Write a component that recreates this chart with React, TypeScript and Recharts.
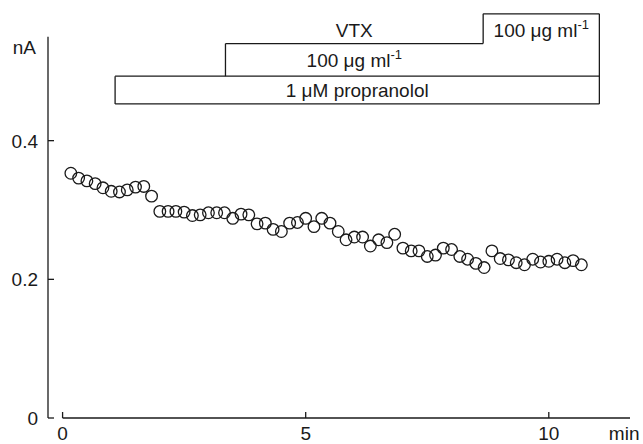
import {
  ScatterChart,
  Scatter,
  XAxis,
  YAxis,
  ReferenceLine,
  ReferenceArea,
  ReferenceDot,
} from 'recharts'

// sample times (min) and currents (nA)
const times = [
  0.17, 0.33, 0.5, 0.67, 0.83, 1.0, 1.17, 1.33, 1.5, 1.67, 1.83, 2.0, 2.17,
  2.33, 2.5, 2.67, 2.83, 3.0, 3.17, 3.33, 3.5, 3.67, 3.83, 4.0, 4.17, 4.33,
  4.5, 4.67, 4.83, 5.0, 5.17, 5.33, 5.5, 5.67, 5.83, 6.0, 6.17, 6.33, 6.5,
  6.67, 6.83, 7.0, 7.17, 7.33, 7.5, 7.67, 7.83, 8.0, 8.17, 8.33, 8.5, 8.67,
  8.83, 9.0, 9.17, 9.33, 9.5, 9.67, 9.83, 10.0, 10.17, 10.33, 10.5, 10.67,
]
const currents = [
  0.353, 0.346, 0.342, 0.338, 0.332, 0.327, 0.326, 0.329, 0.333, 0.334, 0.32,
  0.298, 0.298, 0.298, 0.297, 0.292, 0.293, 0.296, 0.296, 0.296, 0.288, 0.294,
  0.293, 0.28, 0.281, 0.272, 0.269, 0.281, 0.282, 0.288, 0.276, 0.288, 0.281,
  0.269, 0.257, 0.261, 0.261, 0.248, 0.257, 0.253, 0.265, 0.245, 0.241, 0.241,
  0.233, 0.235, 0.245, 0.243, 0.233, 0.229, 0.223, 0.217, 0.241, 0.23, 0.228,
  0.224, 0.221, 0.229, 0.225, 0.226, 0.229, 0.224, 0.227, 0.221,
]

const xTicks = [0, 5, 10]
const yTicks = [0, 0.2, 0.4]

// drug application bars: start times (min) and levels (nA) of the outline
const propranololStart = 1.08
const vtxStart = 3.35
const vtxHighStart = 8.65
const drugEnd = 11.04
const barLevels = [0.453, 0.493, 0.54, 0.583]

const data = times.map((t, i) => ({ t, v: currents[i] }))

const FONT = "'Liberation Sans', Arial, Helvetica, sans-serif"
const INK = '#1a1a1a'
const X_MIN = -0.3
const X_MAX = 11.67
const Y_TOP = 0.55

const [b0, b1, b2, b3] = barLevels
const outline = [
  [propranololStart, b0, drugEnd, b0],
  [propranololStart, b0, propranololStart, b1],
  [propranololStart, b1, drugEnd, b1],
  [vtxStart, b1, vtxStart, b2],
  [vtxStart, b2, vtxHighStart, b2],
  [vtxHighStart, b2, vtxHighStart, b3],
  [vtxHighStart, b3, drugEnd, b3],
  [drugEnd, b3, drugEnd, b0],
]

function XTick({ x, y, payload }: any) {
  return (
    <g>
      <line x1={x} y1={y} x2={x} y2={y - 6} stroke={INK} strokeWidth={1.3} />
      <text x={x} y={y + 22} textAnchor='middle' fontSize={19} fontFamily={FONT} fill={INK}>
        {payload.value}
      </text>
    </g>
  )
}

function YTick({ x, y, payload }: any) {
  return (
    <g>
      <line x1={x} y1={y} x2={x + 6} y2={y} stroke={INK} strokeWidth={1.3} />
      <text x={x - 10} y={y} dy='0.36em' textAnchor='end' fontSize={19} fontFamily={FONT} fill={INK}>
        {payload.value}
      </text>
    </g>
  )
}

function BoxLabel({ viewBox, text, sup, dy = 0 }: any) {
  if (!viewBox) return null
  const cx = viewBox.x + viewBox.width / 2
  const cy = viewBox.y + viewBox.height / 2 + dy
  return (
    <text x={cx} y={cy} dy='0.36em' textAnchor='middle' fontSize={19} fontFamily={FONT} fill={INK}>
      {text}
      {sup && (
        <tspan dy={-8} fontSize={13}>
          {sup}
        </tspan>
      )}
    </text>
  )
}

function Ring(props: any) {
  return <circle cx={props.cx} cy={props.cy} r={5.8} fill='none' stroke={INK} strokeWidth={1.3} />
}

export default function App() {
  return (
    <div style={{ position: 'absolute', left: 0, top: 0, background: '#fff' }}>
      <ScatterChart width={643} height={444} margin={{ top: 2, right: 13, bottom: 0, left: 8 }}>
        <XAxis
          type='number'
          dataKey='t'
          domain={[X_MIN, X_MAX]}
          ticks={xTicks}
          axisLine={false}
          tickLine={false}
          tickSize={0}
          tickMargin={0}
          height={26}
          tick={<XTick />}
        />
        <YAxis
          type='number'
          dataKey='v'
          domain={[0, 0.6]}
          ticks={yTicks}
          axisLine={false}
          tickLine={false}
          tickSize={0}
          tickMargin={0}
          width={40}
          tick={<YTick />}
        />
        {/* axis lines */}
        <ReferenceLine
          segment={[{ x: X_MIN, y: 0 }, { x: X_MIN, y: Y_TOP }]}
          stroke={INK}
          strokeWidth={1.3}
          ifOverflow='visible'
        />
        <ReferenceLine
          segment={[{ x: 0, y: 0 }, { x: X_MAX, y: 0 }]}
          stroke={INK}
          strokeWidth={1.3}
          ifOverflow='visible'
        />
        {outline.map(([x1, y1, x2, y2], i) => (
          <ReferenceLine
            key={i}
            segment={[{ x: x1, y: y1 }, { x: x2, y: y2 }]}
            stroke={INK}
            strokeWidth={1.3}
            ifOverflow='visible'
          />
        ))}
        <ReferenceArea
          x1={propranololStart} x2={drugEnd} y1={b0} y2={b1}
          fill='none' stroke='none' ifOverflow='visible'
          label={<BoxLabel text='1 μM propranolol' />}
        />
        <ReferenceArea
          x1={vtxStart} x2={vtxHighStart} y1={b1} y2={b2}
          fill='none' stroke='none' ifOverflow='visible'
          label={<BoxLabel text='100 μg ml' sup='-1' />}
        />
        <ReferenceArea
          x1={vtxStart} x2={vtxHighStart} y1={b2} y2={b3}
          fill='none' stroke='none' ifOverflow='visible'
          label={<BoxLabel text='VTX' dy={1} />}
        />
        <ReferenceArea
          x1={vtxHighStart} x2={drugEnd} y1={b2} y2={b3}
          fill='none' stroke='none' ifOverflow='visible'
          label={<BoxLabel text='100 μg ml' sup='-1' dy={1} />}
        />
        <ReferenceDot
          x={X_MIN} y={0.535} r={0} ifOverflow='visible'
          label={{ value: 'nA', position: 'left', offset: 12, fontSize: 19, fontFamily: FONT, fill: INK }}
        />
        <ReferenceDot
          x={11.55} y={0} r={0} ifOverflow='visible'
          label={<BoxLabel text='min' dy={15} />}
        />
        <Scatter data={data} shape={<Ring />} isAnimationActive={false} />
      </ScatterChart>
    </div>
  )
}
